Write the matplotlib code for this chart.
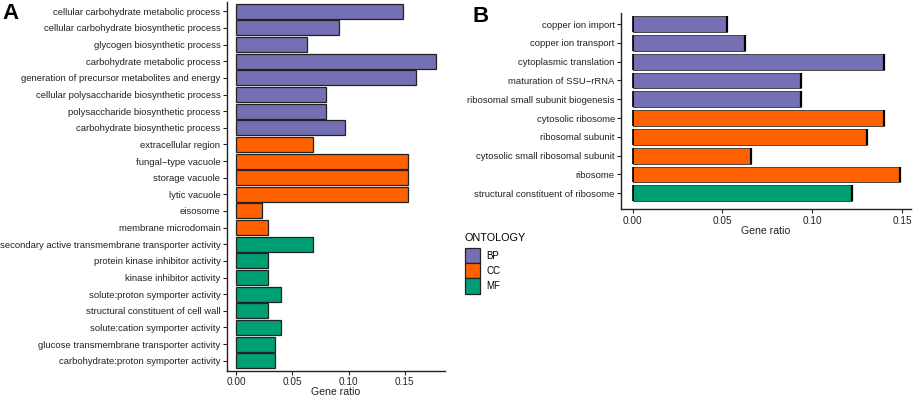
import numpy as np
import matplotlib
matplotlib.use("Agg")
from matplotlib import pyplot as plt
from matplotlib.patches import Patch

plt.rcParams['font.family'] = ['Liberation Sans', 'DejaVu Sans']

# colours by ontology
colors = {"BP": "#7570B3", "CC": "#FF6000", "MF": "#009E73"}

#%% panel A data
terms_A = ["cellular carbohydrate metabolic process",
           "cellular carbohydrate biosynthetic process",
           "glycogen biosynthetic process",
           "carbohydrate metabolic process",
           "generation of precursor metabolites and energy",
           "cellular polysaccharide biosynthetic process",
           "polysaccharide biosynthetic process",
           "carbohydrate biosynthetic process",
           "extracellular region",
           "fungal\u2212type vacuole",
           "storage vacuole",
           "lytic vacuole",
           "eisosome",
           "membrane microdomain",
           "secondary active transmembrane transporter activity",
           "protein kinase inhibitor activity",
           "kinase inhibitor activity",
           "solute:proton symporter activity",
           "structural constituent of cell wall",
           "solute:cation symporter activity",
           "glucose transmembrane transporter activity",
           "carbohydrate:proton symporter activity"]
ratio_A = [0.1486, 0.0915, 0.0628, 0.1773, 0.1600, 0.0800, 0.0800, 0.0970,
           0.0680, 0.1525, 0.1525, 0.1525, 0.0228, 0.0284,
           0.0687, 0.0287, 0.0287, 0.0402, 0.0287, 0.0402, 0.0344, 0.0344]
onto_A = ["BP"] * 8 + ["CC"] * 6 + ["MF"] * 8

#%% panel B data
terms_B = ["copper ion import",
           "copper ion transport",
           "cytoplasmic translation",
           "maturation of SSU\u2212rRNA",
           "ribosomal small subunit biogenesis",
           "cytosolic ribosome",
           "ribosomal subunit",
           "cytosolic small ribosomal subunit",
           "ribosome",
           "structural constituent of ribosome"]
ratio_B = [0.0523, 0.0625, 0.1400, 0.0936, 0.0936, 0.1397, 0.1305, 0.0658, 0.1490, 0.1223]
onto_B = ["BP"] * 5 + ["CC"] * 4 + ["MF"]

W, H = 913, 396
fig = plt.figure(figsize=(W / 100, H / 100), dpi=100)

def px_axes(x0, y0, x1, y1):
    return fig.add_axes([x0 / W, 1 - y1 / H, (x1 - x0) / W, (y1 - y0) / H])

def style(ax):
    for s in ["top", "right"]:
        ax.spines[s].set_visible(False)
    for s in ["left", "bottom"]:
        ax.spines[s].set_linewidth(1.0)
        ax.spines[s].set_color("#222222")
    ax.tick_params(axis="both", length=3, width=0.8, colors="#222222",
                   labelsize=6.8, labelcolor="#222222", pad=1.5)
    ax.tick_params(axis="x", labelsize=7.2)
    ax.set_xticks([0, 0.05, 0.10, 0.15])
    ax.set_xticklabels(["0.00", "0.05", "0.10", "0.15"])

# Panel A
axA = px_axes(226.7, 2, 445, 370.7)
yA = np.arange(len(terms_A))
axA.barh(yA, ratio_A, height=0.9, color=[colors[o] for o in onto_A],
         edgecolor="#222222", linewidth=0.9)
axA.set_yticks(yA)
axA.set_yticklabels(terms_A)
axA.set_ylim(21.6, -0.56)
axA.set_xlim(-0.0083, 0.1856)
style(axA)
axA.set_xlabel("Gene ratio", fontsize=7.6, labelpad=0, color="#222222")

# Panel B
axB = px_axes(621, 13, 911, 209.3)
yB = np.arange(len(terms_B))
axB.barh(yB, ratio_B, height=0.84, color=[colors[o] for o in onto_B],
         edgecolor="#333333", linewidth=0.6)
# dark end caps on the bars
axB.vlines(ratio_B, yB - 0.42, yB + 0.42, color="black", linewidth=1.6)
axB.vlines(np.zeros(len(ratio_B)), yB - 0.42, yB + 0.42, color="black", linewidth=1.2)
axB.set_yticks(yB)
axB.set_yticklabels(terms_B)
axB.set_ylim(9.85, -0.585)
axB.set_xlim(-0.0065, 0.155)
style(axB)
axB.set_xlabel("Gene ratio", fontsize=7.6, labelpad=0, color="#222222")

# legend
handles = [Patch(facecolor=colors[k], edgecolor="#222222", linewidth=0.9, label=k)
           for k in ["BP", "CC", "MF"]]
leg = fig.legend(handles=handles, title="ONTOLOGY", loc="upper left",
                 bbox_to_anchor=(461 / W, 1 - 229 / H), frameon=False,
                 fontsize=7, title_fontsize=7.8, handlelength=1.6, handleheight=2.0,
                 handletextpad=0.6, labelspacing=0.0, borderaxespad=0)
leg._legend_box.align = "left"
leg._legend_box.sep = 4

# panel letters
fig.text(2 / W, 1 - 3 / H, "A", fontsize=16, fontweight="bold", va="top", ha="left")
fig.text(472 / W, 1 - 6 / H, "B", fontsize=16, fontweight="bold", va="top", ha="left")

fig.savefig("out.png", dpi=100)
